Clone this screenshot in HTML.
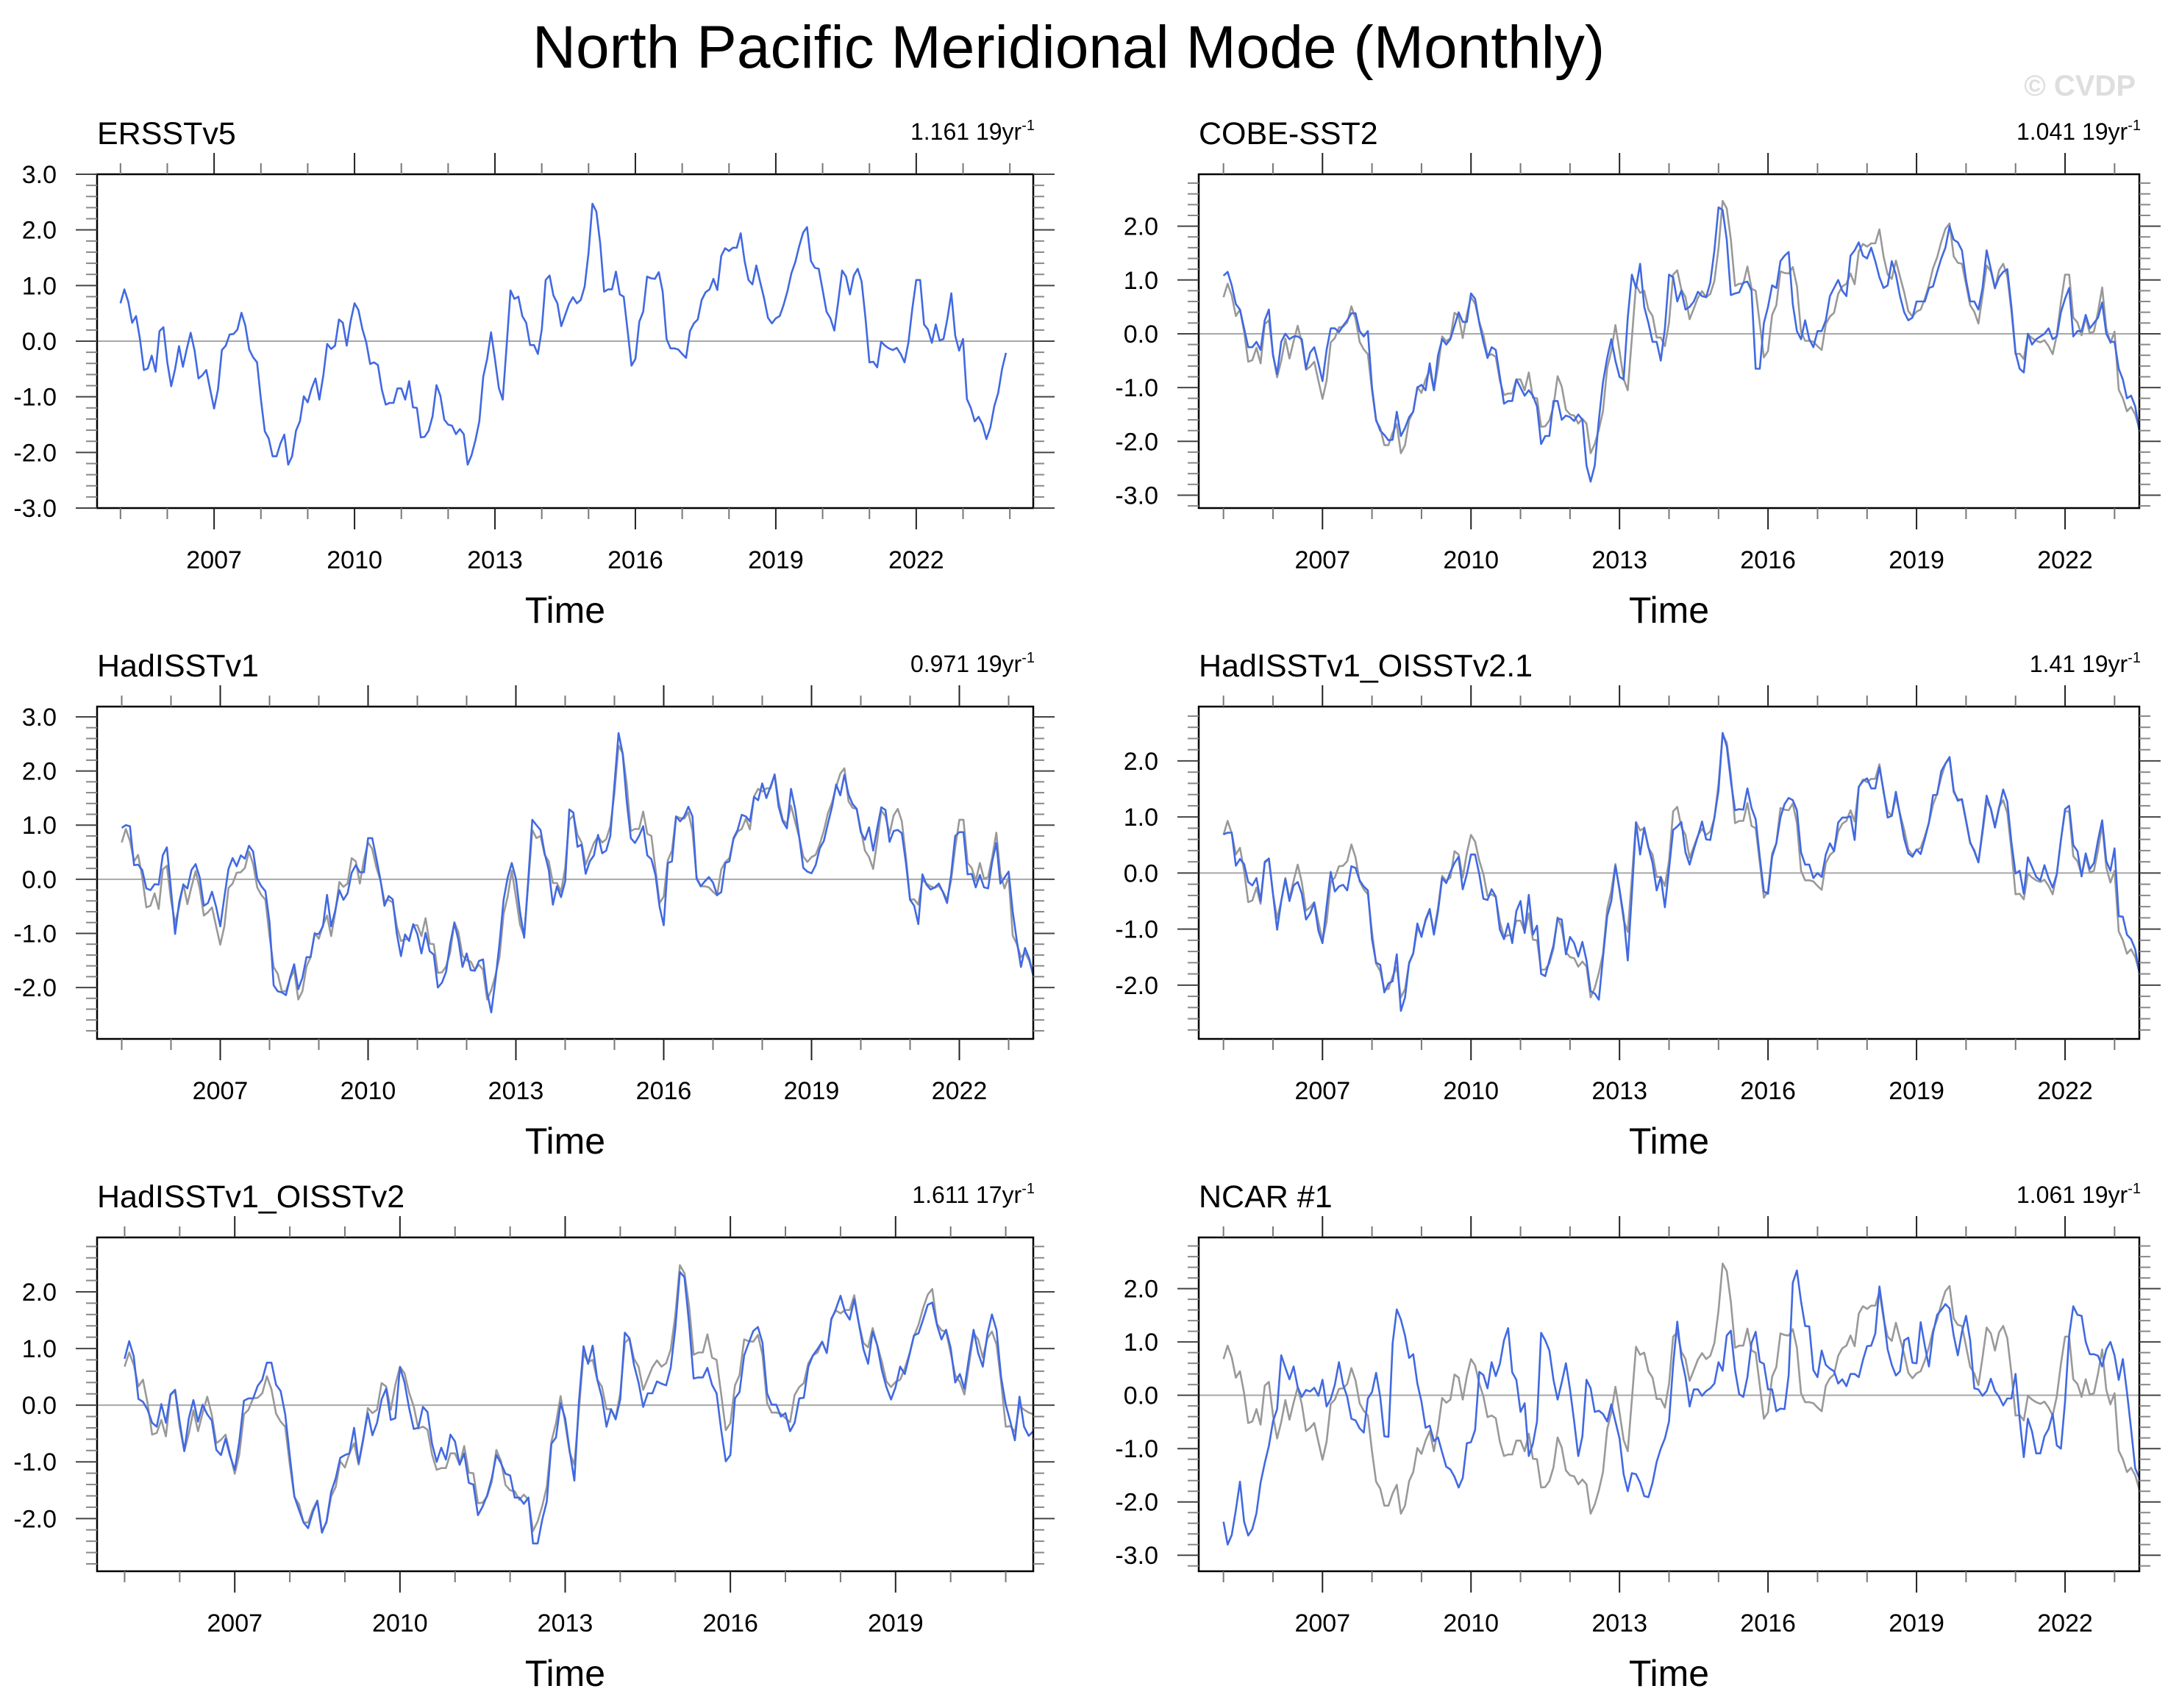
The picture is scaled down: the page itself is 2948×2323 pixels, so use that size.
<!DOCTYPE html>
<html><head><meta charset="utf-8"><title>North Pacific Meridional Mode (Monthly)</title>
<style>
html,body{margin:0;padding:0;background:#fff;}
svg{display:block;font-family:"Liberation Sans",Arial,sans-serif;}
</style></head>
<body>
<svg id="chart" width="2948" height="2323" viewBox="0 0 2948 2323" xmlns="http://www.w3.org/2000/svg">
<text x="1453" y="92" font-size="82" text-anchor="middle" fill="#000">North Pacific Meridional Mode (Monthly)</text>
<text x="2904" y="130" font-size="40" font-weight="bold" text-anchor="end" fill="#dedede">© CVDP</text>
</svg>
<script>
// ---- data (monthly from Jan 2005) ----
const ersst = [0.68,0.93,0.71,0.33,0.45,0.04,-0.52,-0.49,-0.26,-0.55,0.18,0.25,
-0.38,-0.81,-0.5,-0.09,-0.46,-0.14,0.15,-0.17,-0.67,-0.61,-0.52,-0.87,
-1.21,-0.87,-0.16,-0.08,0.12,0.13,0.21,0.51,0.28,-0.15,-0.29,-0.38,
-1.05,-1.62,-1.75,-2.07,-2.07,-1.84,-1.68,-2.22,-2.07,-1.61,-1.44,-0.99,
-1.1,-0.85,-0.67,-1.05,-0.62,-0.05,-0.14,-0.08,0.39,0.33,-0.08,0.36,
0.68,0.56,0.22,-0.02,-0.41,-0.38,-0.43,-0.87,-1.14,-1.11,-1.11,-0.85,
-0.85,-1.05,-0.72,-1.19,-1.2,-1.73,-1.72,-1.61,-1.35,-0.79,-0.98,-1.41,
-1.5,-1.52,-1.67,-1.58,-1.67,-2.22,-2.05,-1.78,-1.44,-0.64,-0.32,0.16,
-0.32,-0.84,-1.05,-0.08,0.91,0.76,0.8,0.45,0.33,-0.07,-0.07,-0.23,
0.21,1.1,1.18,0.82,0.68,0.27,0.47,0.67,0.79,0.68,0.74,0.98,
1.59,2.47,2.33,1.75,0.89,0.93,0.93,1.25,0.84,0.8,0.19,-0.44,
-0.32,0.35,0.53,1.16,1.13,1.12,1.24,0.89,0.04,-0.13,-0.13,-0.15,
-0.23,-0.3,0.18,0.32,0.39,0.74,0.88,0.93,1.12,0.92,1.53,1.67,
1.62,1.68,1.68,1.94,1.44,1.1,1.02,1.36,1.06,0.77,0.42,0.32,
0.41,0.45,0.65,0.9,1.22,1.42,1.71,1.95,2.05,1.44,1.32,1.3,
0.92,0.53,0.41,0.19,0.71,1.27,1.16,0.84,1.18,1.3,1.07,0.41,
-0.38,-0.37,-0.47,-0.01,-0.08,-0.13,-0.16,-0.12,-0.23,-0.38,-0.02,0.59,
1.1,1.1,0.3,0.21,-0.03,0.3,0.01,0.04,0.41,0.86,0.1,-0.17,
0.04,-1.04,-1.2,-1.44,-1.36,-1.5,-1.76,-1.55,-1.17,-0.93,-0.5,-0.21];

const cobe = [1.08,1.15,0.9,0.55,0.45,0.1,-0.25,-0.25,-0.15,-0.3,0.25,0.45,
-0.4,-0.75,-0.15,0.0,-0.1,-0.05,-0.05,-0.1,-0.65,-0.35,-0.25,-0.55,
-0.88,-0.3,0.1,0.1,0.03,0.15,0.25,0.38,0.38,0.05,-0.05,0.05,
-1.0,-1.6,-1.8,-1.88,-1.98,-1.97,-1.45,-1.9,-1.75,-1.55,-1.45,-1.0,
-0.95,-1.05,-0.55,-1.05,-0.4,-0.1,-0.2,-0.1,0.15,0.4,0.22,0.22,
0.75,0.65,0.2,-0.15,-0.45,-0.25,-0.3,-0.8,-1.3,-1.25,-1.25,-0.85,
-1.0,-1.15,-1.05,-1.15,-1.35,-2.05,-1.9,-1.9,-1.25,-1.25,-1.6,-1.52,
-1.55,-1.62,-1.5,-1.6,-2.45,-2.75,-2.45,-1.6,-0.9,-0.45,-0.1,-0.5,
-0.8,-0.85,0.3,1.1,0.85,1.3,0.5,0.2,-0.15,-0.15,-0.5,0.1,
1.1,1.05,0.6,0.8,0.45,0.5,0.6,0.78,0.7,0.68,0.95,1.55,
2.35,2.3,1.75,0.72,0.75,0.77,0.95,0.97,0.8,-0.65,-0.65,0.2,
0.5,0.9,0.85,1.35,1.45,1.52,0.55,0.05,-0.1,0.25,-0.1,-0.25,
0.05,0.05,0.25,0.7,0.85,1.0,0.8,0.7,1.45,1.55,1.7,1.45,
1.4,1.6,1.35,1.05,0.85,0.9,1.35,1.1,0.7,0.4,0.25,0.3,
0.6,0.6,0.6,0.85,0.88,1.15,1.4,1.6,2.0,1.75,1.7,1.55,
1.0,0.6,0.6,0.45,0.85,1.55,1.2,0.85,1.05,1.15,1.2,0.5,
-0.35,-0.65,-0.72,0.0,-0.2,-0.1,-0.05,0.0,0.1,-0.1,-0.05,0.4,
0.65,0.85,-0.05,0.05,0.05,0.35,0.1,0.2,0.3,0.58,0.0,-0.15,
-0.15,-0.65,-0.85,-1.2,-1.15,-1.35,-1.8];

const hadisst = [0.95,1.0,0.98,0.26,0.27,0.17,-0.17,-0.2,-0.09,-0.1,0.44,0.59,
-0.19,-1.01,-0.42,-0.1,-0.17,0.17,0.28,0.03,-0.49,-0.44,-0.23,-0.51,
-0.87,-0.33,0.19,0.39,0.24,0.44,0.38,0.62,0.51,0.01,-0.13,-0.22,
-0.8,-1.96,-2.07,-2.09,-2.14,-1.82,-1.57,-2.03,-1.82,-1.44,-1.44,-1.01,
-1.01,-0.87,-0.29,-0.87,-0.58,-0.2,-0.38,-0.26,0.12,0.26,0.13,0.13,
0.76,0.76,0.39,-0.01,-0.49,-0.31,-0.37,-1.01,-1.42,-1.02,-1.14,-0.83,
-1.01,-1.37,-0.99,-1.33,-1.39,-2.0,-1.91,-1.71,-1.19,-0.81,-1.12,-1.62,
-1.37,-1.68,-1.69,-1.51,-1.48,-2.09,-2.46,-1.87,-1.19,-0.38,0.03,0.3,
0.01,-0.6,-1.08,-0.01,1.1,1.0,0.91,0.48,0.17,-0.47,-0.13,-0.33,
-0.04,1.29,1.23,0.6,0.64,0.1,0.33,0.44,0.82,0.48,0.53,0.8,
1.75,2.7,2.32,1.43,0.76,0.67,0.8,0.98,0.44,0.37,0.08,-0.51,
-0.85,0.3,0.33,1.16,1.07,1.16,1.34,1.16,0.01,-0.13,-0.04,0.04,
-0.06,-0.29,-0.24,0.3,0.33,0.76,0.91,1.19,1.16,1.07,1.52,1.46,
1.77,1.5,1.71,1.93,1.34,1.07,0.94,1.67,1.3,0.78,0.21,0.14,
0.11,0.26,0.57,0.71,1.03,1.34,1.75,1.55,1.93,1.57,1.39,1.3,
0.87,0.73,0.96,0.53,0.94,1.33,1.28,0.69,0.89,0.91,0.85,0.3,
-0.38,-0.49,-0.83,0.09,-0.1,-0.19,-0.15,-0.08,-0.24,-0.44,0.08,0.8,
0.87,0.87,0.09,0.1,-0.15,0.08,-0.15,-0.17,0.33,0.67,-0.08,0.03,
0.14,-0.6,-1.14,-1.62,-1.27,-1.46,-1.78];

const oisst21 = [0.69,0.72,0.72,0.13,0.25,0.16,-0.16,-0.22,-0.09,-0.5,0.2,0.26,
-0.37,-1.01,-0.5,-0.11,-0.5,-0.22,-0.16,-0.37,-0.83,-0.72,-0.53,-1.03,
-1.25,-0.59,0.02,-0.33,-0.24,-0.21,-0.31,0.12,0.09,-0.13,-0.24,-0.31,
-1.18,-1.6,-1.64,-2.13,-1.97,-1.93,-1.45,-2.46,-2.22,-1.6,-1.43,-0.9,
-1.14,-0.83,-0.64,-1.1,-0.68,-0.09,-0.18,0.02,0.18,0.29,-0.29,-0.02,
0.33,0.33,-0.02,-0.46,-0.48,-0.29,-0.42,-1.01,-1.18,-0.9,-1.25,-0.68,
-0.5,-1.07,-0.39,-1.1,-0.94,-1.8,-1.84,-1.56,-1.29,-0.81,-0.83,-1.45,
-1.14,-1.25,-1.49,-1.23,-1.56,-2.11,-2.15,-2.26,-1.51,-0.77,-0.5,0.13,
-0.29,-0.77,-1.56,-0.37,0.9,0.33,0.81,0.46,0.18,-0.31,-0.07,-0.61,
0.07,0.77,0.83,0.91,0.37,0.15,0.42,0.66,0.92,0.6,0.59,0.99,
1.47,2.5,2.26,1.64,1.12,1.14,1.13,1.51,1.16,0.96,0.29,-0.33,
-0.37,0.29,0.53,0.99,1.23,1.34,1.3,1.12,0.37,0.15,0.15,-0.09,
0.0,-0.07,0.33,0.53,0.39,0.9,0.99,0.99,1.01,0.59,1.54,1.64,
1.69,1.51,1.51,1.89,1.47,0.99,1.02,1.45,1.03,0.61,0.35,0.29,
0.42,0.34,0.61,0.9,1.39,1.4,1.82,1.95,2.07,1.47,1.29,1.32,
0.94,0.55,0.39,0.19,0.77,1.38,1.14,0.81,1.16,1.49,1.27,0.55,
-0.01,0.04,-0.37,0.28,0.11,-0.07,-0.13,0.14,-0.09,-0.26,-0.02,0.59,
1.14,1.2,0.5,0.39,-0.06,0.35,0.07,0.18,0.59,0.94,0.21,0.04,
0.44,-0.77,-0.78,-1.1,-1.18,-1.36,-1.78];

const oisst2 = [0.82,1.13,0.86,0.11,0.06,-0.08,-0.31,-0.38,0.02,-0.31,0.19,0.27,
-0.29,-0.81,-0.23,0.09,-0.29,0.01,-0.16,-0.27,-0.79,-0.88,-0.59,-0.9,
-1.14,-0.64,0.08,0.12,0.12,0.34,0.45,0.75,0.75,0.36,0.25,-0.16,
-0.9,-1.61,-1.85,-2.07,-2.17,-1.89,-1.69,-2.25,-2.05,-1.53,-1.29,-0.93,
-0.88,-0.85,-0.4,-1.02,-0.59,-0.14,-0.53,-0.31,0.1,0.29,-0.26,-0.23,
0.67,0.4,-0.05,-0.42,-0.4,-0.03,-0.12,-0.68,-1.0,-0.75,-0.96,-0.52,
-0.64,-1.05,-0.85,-1.37,-1.4,-1.94,-1.79,-1.59,-1.29,-0.88,-1.02,-1.21,
-1.24,-1.63,-1.63,-1.74,-1.63,-2.44,-2.44,-2.02,-1.7,-0.68,-0.57,0.03,
-0.23,-0.81,-1.33,0.06,1.04,0.73,1.05,0.45,0.14,-0.38,-0.07,-0.25,
0.1,1.28,1.18,0.71,0.4,-0.03,0.21,0.21,0.42,0.38,0.35,0.66,
1.36,2.35,2.26,1.44,0.47,0.49,0.49,0.66,0.36,0.21,-0.44,-0.99,
-0.88,0.12,0.23,0.88,1.1,1.31,1.38,1.1,0.21,0.01,0.01,-0.2,
-0.14,-0.46,-0.31,0.12,0.13,0.68,0.88,0.99,1.12,0.92,1.51,1.7,
1.93,1.64,1.51,1.87,1.44,0.99,0.73,1.3,1.06,0.62,0.32,0.1,
0.32,0.68,0.55,0.88,1.23,1.27,1.51,1.77,1.81,1.42,1.16,1.33,
1.01,0.4,0.55,0.29,0.84,1.33,0.92,0.68,1.25,1.6,1.32,0.49,
0.01,-0.29,-0.62,0.15,-0.38,-0.54,-0.46];

const ncar = [-2.37,-2.8,-2.62,-2.15,-1.62,-2.37,-2.63,-2.51,-2.21,-1.64,-1.27,-0.95,
-0.49,-0.26,0.75,0.52,0.3,0.54,0.15,-0.03,0.1,0.07,0.14,-0.01,
0.29,-0.21,-0.07,0.2,0.62,0.2,-0.03,-0.44,-0.47,-0.62,-0.7,-0.06,
0.06,0.42,-0.03,-0.77,-0.78,0.98,1.61,1.42,1.12,0.7,0.77,0.22,
-0.12,-0.61,-0.57,-0.86,-0.79,-1.07,-1.34,-1.39,-1.53,-1.73,-1.55,-0.9,
-0.88,-0.65,0.44,0.38,0.13,0.62,0.36,0.59,1.03,1.26,0.43,0.29,
-0.31,-0.15,-1.14,-0.91,-0.49,1.17,1.03,0.84,0.29,-0.08,0.24,0.6,
0.11,-0.49,-1.14,-0.77,0.29,0.13,-0.31,-0.29,-0.35,-0.49,-0.17,-0.49,
-0.81,-1.48,-1.8,-1.46,-1.48,-1.64,-1.89,-1.91,-1.64,-1.25,-1.0,-0.81,
-0.49,0.57,1.38,0.7,0.34,-0.21,0.11,0.11,-0.01,0.08,0.13,0.22,
0.62,0.46,1.12,1.21,0.47,0.02,-0.03,0.34,0.98,1.19,0.63,0.59,
0.11,0.11,-0.3,-0.25,-0.26,0.38,2.11,2.34,1.76,1.3,1.29,0.47,
0.34,0.84,0.57,0.5,0.45,0.22,0.3,0.17,0.4,0.4,0.34,0.66,
0.92,0.93,1.16,2.04,1.49,0.86,0.57,0.37,0.45,1.03,1.08,0.61,
0.6,1.37,0.93,0.54,1.16,1.51,1.6,1.71,1.63,1.12,0.75,1.19,
1.49,1.03,0.13,0.11,-0.01,0.08,0.31,0.08,-0.03,-0.19,-0.06,-0.06,
0.4,-0.45,-1.16,-0.44,-0.68,-1.09,-1.09,-0.77,-0.63,-0.35,-0.94,-1.0,
-0.12,1.12,1.67,1.51,1.49,1.0,0.77,0.77,0.74,0.54,0.86,1.0,
0.75,0.29,0.68,0.06,-0.63,-1.37,-1.55];

const panelTitles = ["ERSSTv5","COBE-SST2","HadISSTv1","HadISSTv1_OISSTv2.1","HadISSTv1_OISSTv2","NCAR #1"];
const panelStats = ["1.161 19yr","1.041 19yr","0.971 19yr","1.41 19yr","1.611 17yr","1.061 19yr"];
const panelSeries = [ersst, cobe, hadisst, oisst21, oisst2, ncar];

// ---- layout ----
const NS = "http://www.w3.org/2000/svg";
const svg = document.getElementById('chart');
const LX = [132, 1405], RX = [1630, 2909];
const ROWS = [[237, 691], [961, 1413], [1683, 2137]];
const layout = [
  {x: LX, y: ROWS[0], t: [2004.5, 2024.5], v: [-3, 3]},
  {x: RX, y: ROWS[0], t: [2004.5, 2023.5], v: [-3.24, 2.965]},
  {x: LX, y: ROWS[1], t: [2004.5, 2023.5], v: [-2.95, 3.19]},
  {x: RX, y: ROWS[1], t: [2004.5, 2023.5], v: [-2.96, 2.97]},
  {x: LX, y: ROWS[2], t: [2004.5, 2021.5], v: [-2.93, 2.96]},
  {x: RX, y: ROWS[2], t: [2004.5, 2023.5], v: [-3.30, 2.96]}
];

function mk(tag, attrs, parent) {
  const e = document.createElementNS(NS, tag);
  for (const k in attrs) e.setAttribute(k, attrs[k]);
  (parent || svg).appendChild(e);
  return e;
}

layout.forEach((L, p) => {
  const [x0, x1] = L.x, [y0, y1] = L.y, [t0, t1] = L.t, [v0, v1] = L.v;
  const xs = t => x0 + (t - t0) / (t1 - t0) * (x1 - x0);
  const ys = v => y1 - (v - v0) / (v1 - v0) * (y1 - y0);
  const g = mk('g', {});
  
  

  const clip = mk('clipPath', {id: 'clip' + p}, g);
  mk('rect', {x: x0, y: y0, width: x1 - x0, height: y1 - y0}, clip);

  const zl = mk('line', {x1: x0, x2: x1, y1: ys(0), y2: ys(0), stroke: '#a8a8a8', 'stroke-width': 2}, g);
  
  

  const drawLine = (arr, color, name) => {
    let d = '';
    arr.forEach((v, i) => { d += (i ? 'L' : 'M') + xs(2005 + i / 12).toFixed(1) + ',' + ys(v).toFixed(1); });
    const pth = mk('path', {d: d, fill: 'none', stroke: color, 'stroke-width': 2.6, 'stroke-linejoin': 'round', 'clip-path': 'url(#clip' + p + ')'}, g);
    
    
  };
  if (p > 0) drawLine(ersst, '#999999', 'ersstv5-reference-line');
  drawLine(panelSeries[p], '#4169e1', 'series-line');

  const box = mk('rect', {x: x0, y: y0, width: x1 - x0, height: y1 - y0, fill: 'none', stroke: '#000', 'stroke-width': 2.5}, g);
  
  

  for (let yr = 2005; yr <= Math.floor(t1); yr++) {
    const major = (yr - 2007) % 3 === 0;
    const len = major ? 29 : 15, col = major ? '#222' : '#777';
    const xx = xs(yr);
    mk('line', {x1: xx, x2: xx, y1: y1, y2: y1 + len, stroke: col, 'stroke-width': 2}, g);
    mk('line', {x1: xx, x2: xx, y1: y0, y2: y0 - len, stroke: col, 'stroke-width': 2}, g);
    if (major) {
      const tl = mk('text', {x: xx, y: y1 + 82, 'font-size': 34, 'text-anchor': 'middle', fill: '#000'}, g);
      tl.textContent = String(yr);
      
      
    }
  }
  for (let k = Math.ceil(v0 * 5 - 1e-6); k <= Math.floor(v1 * 5 + 1e-6); k++) {
    const v = k / 5, major = k % 5 === 0;
    const len = major ? 29 : 15, col = major ? '#444' : '#888';
    const yy = ys(v);
    mk('line', {x1: x0, x2: x0 - len, y1: yy, y2: yy, stroke: col, 'stroke-width': 2}, g);
    mk('line', {x1: x1, x2: x1 + len, y1: yy, y2: yy, stroke: col, 'stroke-width': 2}, g);
    if (major) {
      const tl = mk('text', {x: x0 - 55, y: yy + 12, 'font-size': 34, 'text-anchor': 'end', fill: '#000'}, g);
      tl.textContent = (k / 5).toFixed(1);
      
      
    }
  }
  const tt = mk('text', {x: x0, y: y0 - 41, 'font-size': 43, fill: '#000'}, g);
  tt.textContent = panelTitles[p];
  
  

  const st = mk('text', {x: x1 + 2, y: y0 - 47, 'font-size': 32, 'text-anchor': 'end', fill: '#000'}, g);
  
  
  const s1 = mk('tspan', {}, st); s1.textContent = panelStats[p];
  const s2 = mk('tspan', {dy: -13, 'font-size': 20}, st); s2.textContent = '-1';

  const xt = mk('text', {x: (x0 + x1) / 2, y: y1 + 156, 'font-size': 50, 'text-anchor': 'middle', fill: '#000'}, g);
  xt.textContent = 'Time';
  
  
});
</script>
</body></html>
